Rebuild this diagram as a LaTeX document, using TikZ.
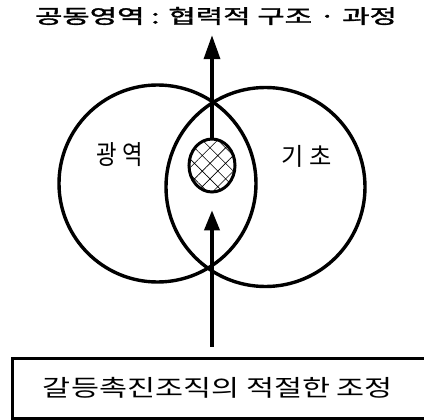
\documentclass[tikz,border=0pt]{standalone}
\usepackage{fontspec}
\newfontfamily\kr{Noto Sans CJK KR}
\newfontfamily\krsemi{Noto Sans CJK KR}[FakeBold=1.5]
\usetikzlibrary{arrows.meta,patterns.meta,shapes.geometric}
\begin{document}
\begin{tikzpicture}[x=1pt,y=-1pt,
  ring/.style={draw,circle,line width=3.4pt,inner sep=0pt},
  txt/.style={font=\kr,inner sep=0pt},
  bigarrow/.style={line width=3.6pt,-{Triangle[length=24pt,width=16pt]}}]
\useasboundingbox (0,0) rectangle (424,420);
\node[ring,minimum size=197pt] (L) at (157.5,183.5) {};
\node[ring,minimum size=199pt] (R) at (265.5,187) {};
\node[draw,ellipse,line width=3pt,minimum width=46pt,minimum height=53pt,inner sep=0pt,
      pattern={Hatch[angle=45,distance=11pt,line width=0.6pt]}] (core) at (212,165.5) {};
\node[txt] (lL) at (120,155) {\resizebox*{46pt}{24pt}{광 역}};
\node[txt] (lR) at (307,156) {\resizebox*{50pt}{22pt}{기 초}};
\node[txt,font=\krsemi] (title) at (216,16)
  {\resizebox*{362pt}{18pt}{공동영역 : 협력적 구조 · 과정}};
\node[draw,line width=3pt,minimum width=418pt,minimum height=60pt,inner sep=0pt] (box) at (221,388) {};
\node[txt] (boxtext) at (218,387.5) {\resizebox*{350pt}{21pt}{갈등촉진조직의 적절한 조정}};
\draw[bigarrow,shorten >=10pt] (core.north) -- (title.south -| core.north);
\draw[line width=3.6pt,-{Triangle[length=20pt,width=15pt]},shorten <=10pt,shorten >=18pt]
  (box.north -| core.south) -- (core.south);
\end{tikzpicture}
\end{document}
